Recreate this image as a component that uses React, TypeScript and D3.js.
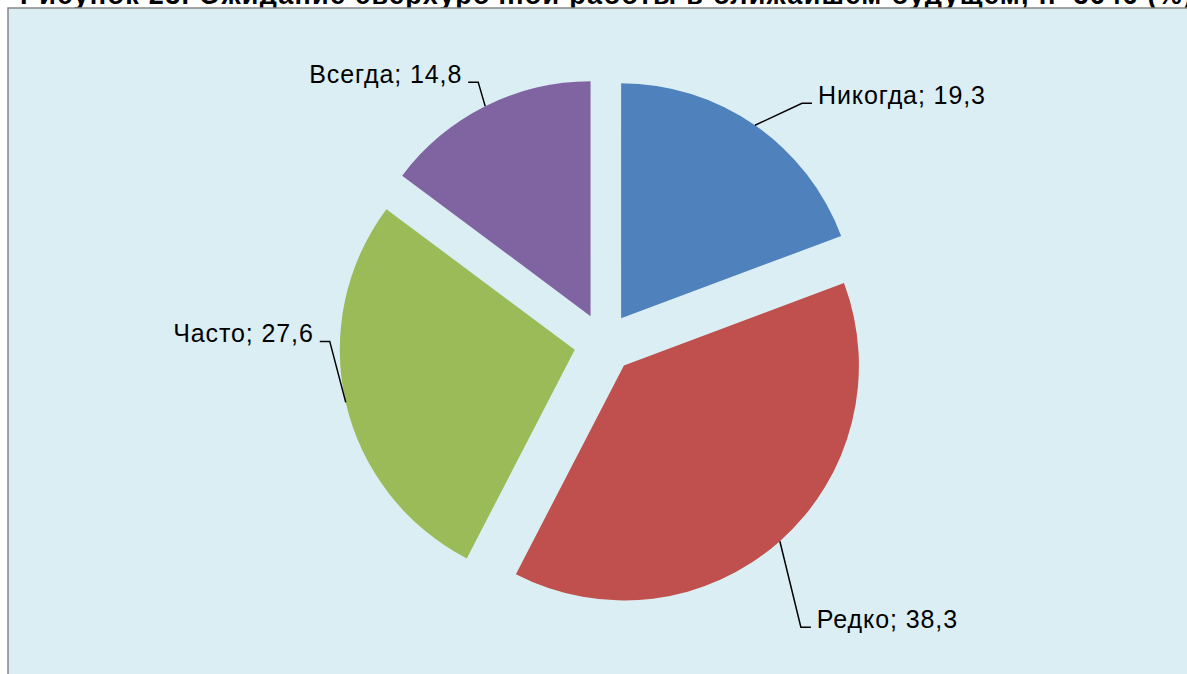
import React from "react";
import * as d3 from "d3";

const categories = ["Никогда", "Редко", "Часто", "Всегда"];
const values = [19.3, 38.3, 27.6, 14.8];
const colors = ["#4F81BD", "#C0504D", "#9BBB59", "#8064A2"];
const title = "Рисунок 23. Ожидание сверхурочной работы в ближайшем будущем, n=3646 (%)";

// leader elbow offsets from the slice's outer midpoint (layout only)
const elbows: [number, number][] = [
  [47, -22],
  [21, 86],
  [-16, -61],
  [-7, -24],
];

const W = 1187;
const H = 674;
const cx = 604;
const cy = 343;
const radius = 235;
const explode = 30;

export default function App() {
  const pie = d3.pie<number>().sort(null).startAngle(0).endAngle(2 * Math.PI);
  const arcs = pie(values);
  const arc = d3.arc<d3.PieArcDatum<number>>().innerRadius(0).outerRadius(radius);
  const fmt = (v: number) => String(v).replace(".", ",");

  return (
    <svg
      width={W}
      height={H}
      style={{ position: "absolute", left: 0, top: 0, background: "#fff" }}
    >
      <text
        x={20}
        y={4}
        fontFamily="Liberation Sans, Arial, sans-serif"
        fontWeight="bold"
        fontSize={27}
        letterSpacing={1.3}
        fill="#000"
      >
        {title}
      </text>
      <rect x={8} y={8} width={W + 20} height={H + 20} fill="#DBEEF4" stroke="#868686" strokeWidth={1.5} />
      <g transform={`translate(${cx},${cy})`}>
        {arcs.map((a, i) => {
          const mid = (a.startAngle + a.endAngle) / 2;
          const ox = Math.sin(mid) * explode;
          const oy = -Math.cos(mid) * explode;
          const px = ox + Math.sin(mid) * radius;
          const py = oy - Math.cos(mid) * radius;
          const ex = px + elbows[i][0];
          const ey = py + elbows[i][1];
          const right = ex > 0;
          const hx = ex + (right ? 10 : -10);
          return (
            <g key={categories[i]}>
              <path d={arc(a) || ""} transform={`translate(${ox},${oy})`} fill={colors[i]} />
              <polyline
                points={`${px},${py} ${ex},${ey} ${hx},${ey}`}
                fill="none"
                stroke="#000"
                strokeWidth={1.5}
              />
              <text
                x={hx + (right ? 6 : -6)}
                y={ey + 1}
                textAnchor={right ? "start" : "end"}
                fontFamily="Liberation Sans, Arial, sans-serif"
                fontSize={25}
                letterSpacing={0.9}
                fill="#000"
              >
                {`${categories[i]}; ${fmt(values[i])}`}
              </text>
            </g>
          );
        })}
      </g>
    </svg>
  );
}
